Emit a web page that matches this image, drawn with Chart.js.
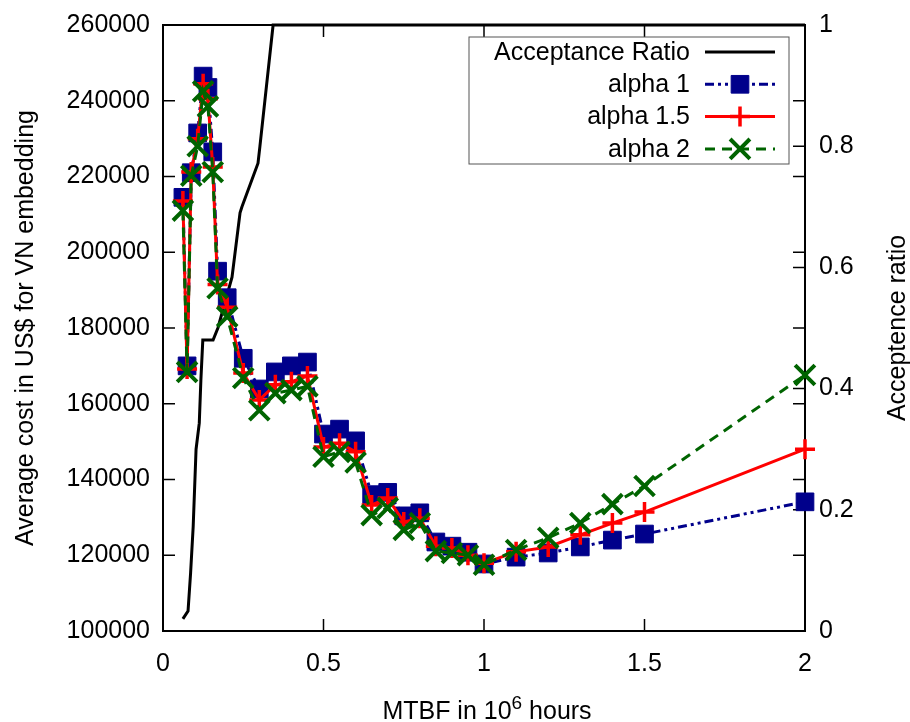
<!DOCTYPE html>
<html>
<head>
<meta charset="utf-8">
<script src="https://cdn.jsdelivr.net/npm/chart.js@4.4.0/dist/chart.umd.min.js"></script>
<style>
  html, body { margin: 0; padding: 0; background: #fff; }
  canvas { display: block; }
</style>
</head>
<body>
<canvas id="costChart" width="910" height="722"></canvas>
<script>
// MTBF (10^6 hours) of the cost runs
const mtbf = [0.062, 0.075, 0.088, 0.108, 0.125, 0.14, 0.155, 0.17, 0.2, 0.25, 0.3, 0.35, 0.4, 0.45,
  0.5, 0.55, 0.6, 0.65, 0.7, 0.75, 0.8, 0.85, 0.9, 0.95, 1.0, 1.1, 1.2, 1.3, 1.4, 1.5, 2.0];

// average embedding cost (US$)
const alpha1 = [214500, 170000, 221000, 231500, 246500, 243500, 226500, 195000, 188000, 172000, 163900,
  168400, 170000, 171000, 152000, 153300, 150200, 136000, 136600, 130400, 131200, 123500, 122400,
  120800, 117700, 119500, 120600, 122200, 124000, 125600, 134100];
const alpha15 = [213500, 169200, 221200, 230000, 244500, 240500, 222500, 191500, 185500, 168100, 161000,
  165000, 165800, 167300, 148600, 149600, 147300, 133300, 135100, 128800, 129800, 122400, 121900,
  120000, 117900, 120900, 122200, 125400, 128500, 131400, 148000];
const alpha2 = [211000, 168400, 220200, 228000, 242500, 238500, 221200, 190500, 183000, 166800, 158300,
  162800, 163600, 164600, 146000, 147300, 144500, 130600, 132500, 126700, 128500, 121100, 120600,
  120000, 117500, 121400, 124600, 128500, 133500, 138300, 167600];

// acceptance ratio (right axis)
const acceptMtbf = [0.062, 0.078, 0.086, 0.094, 0.103, 0.113, 0.118, 0.124, 0.156, 0.171, 0.215, 0.24,
  0.246, 0.296, 0.302, 0.343, 2.0];
const acceptRatio = [0.02, 0.033, 0.096, 0.172, 0.30, 0.343, 0.414, 0.48, 0.48, 0.50, 0.584, 0.69,
  0.70, 0.772, 0.80, 1.0, 1.0];

const xTicks = [0, 0.5, 1, 1.5, 2];
const costTicks = [100000, 120000, 140000, 160000, 180000, 200000, 220000, 240000, 260000];
const ratioTicks = [0, 0.2, 0.4, 0.6, 0.8, 1];

const FONT = '"Liberation Sans", Arial, Helvetica, sans-serif';
const SIZE = 25;
Chart.defaults.font.family = FONT;
Chart.defaults.font.size = SIZE;
Chart.defaults.color = '#000';

function pairs(xs, ys) {
  return xs.map((x, i) => ({ x: x, y: ys[i] }));
}

function fixedTicks(list) {
  return scale => { scale.ticks = list.map(v => ({ value: v })); };
}

// border box with inward ticks, mirrored like gnuplot
const frame = {
  id: 'frame',
  beforeDatasetsDraw(chart) {
    const { ctx, chartArea: a, scales } = chart;
    const len = 12;
    ctx.save();
    ctx.strokeStyle = '#000';
    ctx.lineWidth = 1.5;
    ctx.beginPath();
    xTicks.forEach(v => {
      const px = scales.x.getPixelForValue(v);
      ctx.moveTo(px, a.bottom); ctx.lineTo(px, a.bottom - len);
      ctx.moveTo(px, a.top); ctx.lineTo(px, a.top + len);
    });
    costTicks.forEach(v => {
      const py = scales.y.getPixelForValue(v);
      ctx.moveTo(a.left, py); ctx.lineTo(a.left + len, py);
      ctx.moveTo(a.right, py); ctx.lineTo(a.right - len, py);
    });
    ratioTicks.forEach(v => {
      const py = scales.y2.getPixelForValue(v);
      ctx.moveTo(a.right, py); ctx.lineTo(a.right - len, py);
    });
    ctx.stroke();
    ctx.lineWidth = 2;
    ctx.strokeRect(a.left, a.top, a.right - a.left, a.bottom - a.top);
    ctx.restore();
  }
};

// key in the top right corner: text on the left, sample on the right
const key = {
  id: 'key',
  afterDatasetsDraw(chart) {
    const { ctx, chartArea: a } = chart;
    const right = a.right - 16, top = a.top + 12;
    const w = 320, h = 127, rowH = 32.3;
    ctx.save();
    ctx.strokeStyle = '#555';
    ctx.lineWidth = 1;
    ctx.strokeRect(right - w, top, w, h);
    ctx.font = SIZE + 'px ' + FONT;
    ctx.textAlign = 'right';
    ctx.textBaseline = 'middle';
    chart.data.datasets.forEach((ds, i) => {
      const y = top + 15 + i * rowH;
      ctx.fillStyle = '#000';
      ctx.fillText(ds.label, right - 99, y + 1);
      const x0 = right - 84, x1 = right - 14;
      ctx.strokeStyle = ds.borderColor;
      ctx.lineWidth = ds.borderWidth;
      ctx.setLineDash(ds.borderDash || []);
      ctx.beginPath();
      ctx.moveTo(x0, y); ctx.lineTo(x1, y);
      ctx.stroke();
      ctx.setLineDash([]);
      if (ds.pointRadius > 0) {
        ctx.fillStyle = ds.backgroundColor;
        ctx.strokeStyle = ds.borderColor;
        ctx.lineWidth = ds.pointBorderWidth;
        Chart.helpers.drawPoint(ctx, {
          pointStyle: ds.pointStyle, radius: ds.pointRadius, rotation: 0, borderWidth: ds.pointBorderWidth
        }, (x0 + x1) / 2, y);
      }
    });
    ctx.restore();
  }
};

// bottom title with a raised exponent, right title read bottom to top
const axisTitles = {
  id: 'axisTitles',
  afterDraw(chart) {
    const { ctx, chartArea: a } = chart;
    ctx.save();
    ctx.fillStyle = '#000';
    ctx.textBaseline = 'alphabetic';
    ctx.textAlign = 'left';
    const big = SIZE + 'px ' + FONT, small = '19px ' + FONT;
    const parts = [['MTBF in 10', big, 0], ['6', small, -10], [' hours', big, 0]];
    let total = 0;
    parts.forEach(p => { ctx.font = p[1]; total += ctx.measureText(p[0]).width; });
    let x = (a.left + a.right) / 2 + 3 - total / 2;
    const base = 719;
    parts.forEach(p => {
      ctx.font = p[1];
      ctx.fillText(p[0], x, base + p[2]);
      x += ctx.measureText(p[0]).width;
    });

    ctx.font = big;
    ctx.textAlign = 'center';
    ctx.textBaseline = 'middle';
    ctx.translate(898, (a.top + a.bottom) / 2);
    ctx.rotate(-Math.PI / 2);
    ctx.fillText('Acceptence ratio', 0, 0);
    ctx.restore();
  }
};

new Chart(document.getElementById('costChart').getContext('2d'), {
  type: 'line',
  data: {
    datasets: [
      {
        label: 'Acceptance Ratio',
        data: pairs(acceptMtbf, acceptRatio),
        yAxisID: 'y2',
        borderColor: '#000000',
        backgroundColor: '#000000',
        borderWidth: 3,
        pointRadius: 0,
        clip: false,
        order: 4
      },
      {
        label: 'alpha 1',
        data: pairs(mtbf, alpha1),
        yAxisID: 'y',
        borderColor: '#00008b',
        backgroundColor: '#00008b',
        borderWidth: 3,
        borderDash: [9, 4, 3, 4, 3, 4],
        pointStyle: 'rect',
        pointRadius: 12.5,
        pointBorderWidth: 1,
        clip: false,
        order: 3
      },
      {
        label: 'alpha 1.5',
        data: pairs(mtbf, alpha15),
        yAxisID: 'y',
        borderColor: '#ff0000',
        backgroundColor: '#ff0000',
        borderWidth: 3,
        pointStyle: 'cross',
        pointRadius: 10,
        pointBorderWidth: 3.5,
        clip: false,
        order: 2
      },
      {
        label: 'alpha 2',
        data: pairs(mtbf, alpha2),
        yAxisID: 'y',
        borderColor: '#006400',
        backgroundColor: '#006400',
        borderWidth: 3,
        borderDash: [10, 7],
        pointStyle: 'crossRot',
        pointRadius: 14,
        pointBorderWidth: 4,
        clip: false,
        order: 1
      }
    ]
  },
  options: {
    responsive: false,
    animation: false,
    devicePixelRatio: 1,
    events: [],
    layout: { padding: { top: 25, left: 0, right: 0, bottom: 0 } },
    elements: { line: { tension: 0 } },
    plugins: { legend: { display: false }, tooltip: { enabled: false } },
    scales: {
      x: {
        type: 'linear',
        min: 0,
        max: 2,
        grid: { display: false },
        border: { display: false },
        afterBuildTicks: fixedTicks(xTicks),
        afterFit: s => { s.height = 91; },
        ticks: { padding: 10, maxRotation: 0, callback: v => String(v) }
      },
      y: {
        type: 'linear',
        position: 'left',
        min: 100000,
        max: 260000,
        grid: { display: false },
        border: { display: false },
        afterBuildTicks: fixedTicks(costTicks),
        afterFit: s => { s.width = 163; },
        ticks: { padding: 5, callback: v => String(v) },
        title: {
          display: true,
          text: 'Average cost in US$ for VN embedding',
          padding: { top: 11, bottom: 0 }
        }
      },
      y2: {
        type: 'linear',
        position: 'right',
        min: 0,
        max: 1,
        grid: { display: false },
        border: { display: false },
        afterBuildTicks: fixedTicks(ratioTicks),
        afterFit: s => { s.width = 105; },
        ticks: { padding: 6, callback: v => String(v) }
      }
    }
  },
  plugins: [frame, key, axisTitles]
});
</script>
</body>
</html>
